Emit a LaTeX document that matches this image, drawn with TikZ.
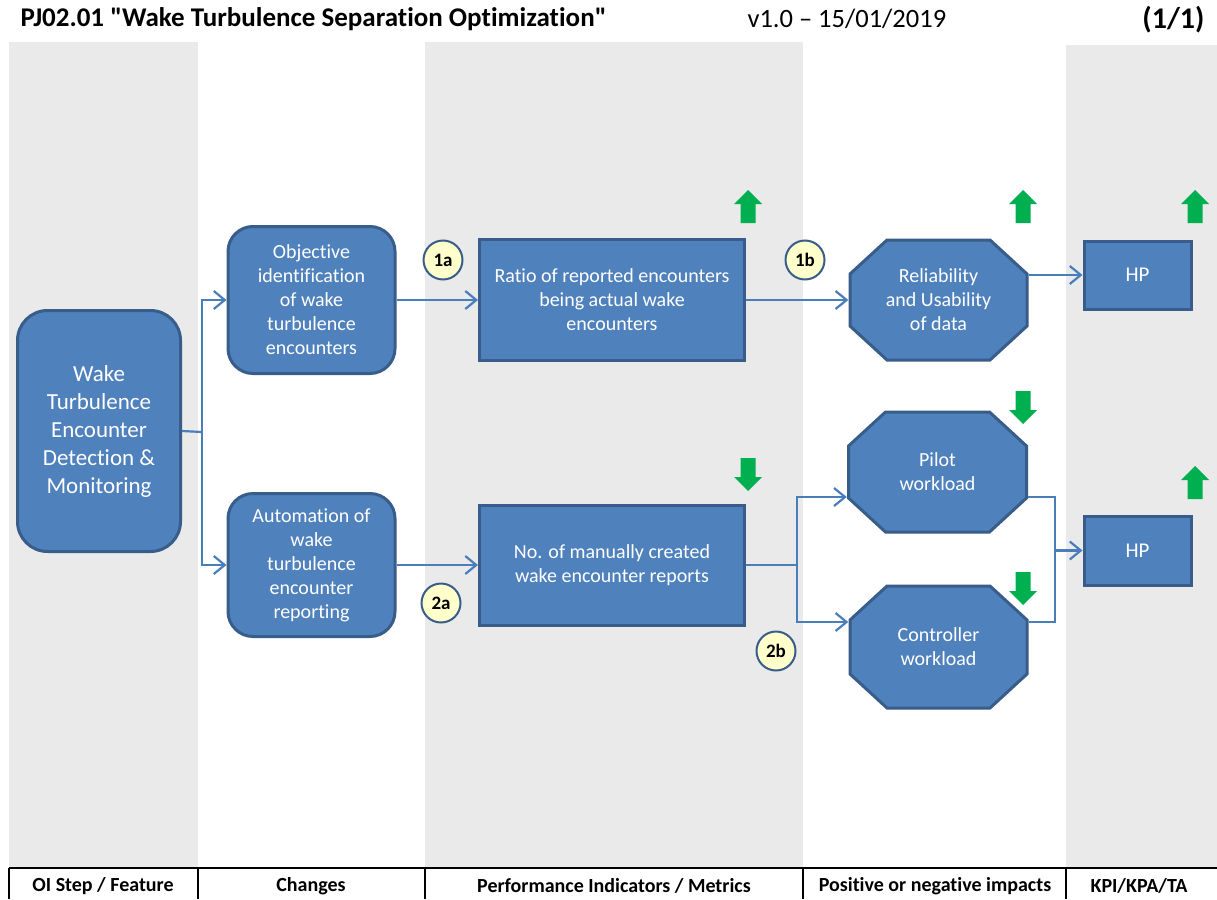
\documentclass[tikz,border=0pt]{standalone}
\usepackage{fontspec}
\setmainfont{Carlito}[Ligatures={TeXOff,NoCommon}]
\usetikzlibrary{arrows.meta,calc}

\definecolor{boxfill}{HTML}{4F81BD}
\definecolor{boxline}{HTML}{385D8A}
\definecolor{connblue}{HTML}{4A7EBB}
\definecolor{bandgray}{HTML}{EAEAEA}
\definecolor{badgefill}{HTML}{FFFFCC}
\definecolor{good}{HTML}{00B050}

\tikzset{
  boxbase/.style={fill=boxfill, draw=boxline, line width=3pt, text=white,
    align=center, inner sep=2pt, font=\fontsize{20}{24}\selectfont},
  rbox/.style={boxbase, rounded corners=25pt},
  sbox/.style={boxbase},
  octbox/.style={align=center, text=white, inner sep=2pt,
    font=\fontsize{20}{24}\selectfont,
    path picture={
      \path[fill=boxfill, draw=boxline, line width=3pt, line join=miter]
        ($(path picture bounding box.north west)+(38.5,1.5)$) --
        ($(path picture bounding box.north east)+(-38.5,1.5)$) --
        ($(path picture bounding box.north east)+(-1.5,35.5)$) --
        ($(path picture bounding box.south east)+(-1.5,-35.5)$) --
        ($(path picture bounding box.south east)+(-38.5,-1.5)$) --
        ($(path picture bounding box.south west)+(38.5,-1.5)$) --
        ($(path picture bounding box.south west)+(1.5,-35.5)$) --
        ($(path picture bounding box.north west)+(1.5,35.5)$) -- cycle;
    }},
  conn/.style={draw=connblue, line width=2.2pt},
  arr/.style={conn, -{Straight Barb[length=11pt,width=18pt]}},
  badge/.style={circle, fill=badgefill, draw=boxline, line width=2pt,
    minimum size=39pt, inner sep=0pt, font=\bfseries\fontsize{19}{19}\selectfont},
  foot/.style={font=\bfseries\fontsize{20}{20}\selectfont},
  upgreen/.pic={\fill[good] (-14,-3) -- (0,-17) -- (14,-3) -- (7.5,-3)
    -- (7.5,16) -- (-7.5,16) -- (-7.5,-3) -- cycle;},
  downgreen/.pic={\fill[good] (-14,3) -- (0,17) -- (14,3) -- (7.5,3)
    -- (7.5,-16) -- (-7.5,-16) -- (-7.5,3) -- cycle;}
}

\begin{document}
\begin{tikzpicture}[x=1pt, y=-1pt]
\useasboundingbox (0,0) rectangle (1217,899);
\fill[white] (0,0) rectangle (1217,899);

% column bands
\fill[bandgray] (9,42) rectangle (198,868);
\fill[bandgray] (425,42) rectangle (803,868);
\fill[bandgray] (1066,45) rectangle (1217,868);

% header line
\node[anchor=west, font=\bfseries\fontsize{27}{27}\selectfont] (title) at (17,19)
  {PJ02.01 "Wake Turbulence Separation Optimization"};
\node[anchor=west, font=\fontsize{26.5}{27}\selectfont] (version) at (744,19)
  {v1.0 – 15/01/2019};
\node[anchor=east, font=\bfseries\fontsize{30}{30}\selectfont] (page) at (1208,20)
  {(1/1)};

% footer row
\draw[black, line width=2.5pt] (9,868) -- (1217,868);
\foreach \xx in {9,198,425,803,1066}
  \draw[black, line width=1.5pt] (\xx,868) -- (\xx,899);
\node[foot] (f1) at (103,886) {OI Step / Feature};
\node[foot] (f2) at (311,886) {Changes};
\node[foot] (f3) at (614,886) {Performance Indicators / Metrics};
\node[foot] (f4) at (935,886) {Positive or negative impacts};
\node[foot] (f5) at (1139,886) {KPI/KPA/TA};

% boxes
\node[rbox, rounded corners=30pt, minimum width=163pt, minimum height=241pt,
  font=\fontsize{23}{28}\selectfont] (oi) at (99,431)
  {Wake\\Turbulence\\Encounter\\Detection \&\\Monitoring};
\node[rbox, minimum width=167pt, minimum height=147pt] (obj) at (311.5,300)
  {Objective\\identification\\of wake\\turbulence\\encounters};
\node[rbox, minimum width=167pt, minimum height=143pt] (aut) at (311.5,565)
  {Automation of\\wake\\turbulence\\encounter\\reporting};
\node[sbox, minimum width=265pt, minimum height=121pt] (ratio) at (612,300)
  {Ratio of reported encounters\\being actual wake\\encounters};
\node[sbox, minimum width=265pt, minimum height=120pt] (manual) at (612,565)
  {No. of manually created\\wake encounter reports};
\node[octbox, minimum width=180pt, minimum height=123pt] (rel) at (938.5,300)
  {Reliability\\and Usability\\of data};
\node[octbox, minimum width=181pt, minimum height=123pt] (pilot) at (937.5,472)
  {Pilot\\workload};
\node[octbox, minimum width=180pt, minimum height=125pt] (ctrl) at (938.5,647)
  {Controller\\workload};
\node[sbox, minimum width=107pt, minimum height=68pt,
  font=\fontsize{21}{21}\selectfont] (hp1) at (1137.5,275) {HP};
\node[sbox, minimum width=107pt, minimum height=69pt,
  font=\fontsize{21}{21}\selectfont] (hp2) at (1137.5,550.5) {HP};

% connectors
\coordinate (s1) at (202,432);
\draw[conn] (oi.east) -- (s1);
\draw[arr] (s1) |- (obj.west);
\draw[arr] (s1) |- (aut.west);
\draw[arr] (obj.east) -- (ratio.west);
\draw[arr] (ratio.east) -- (rel.west);
\draw[arr] (hp1.west -| rel.east) -- (hp1.west);
\draw[arr] (aut.east) -- (manual.west);
\coordinate (s2) at (797,565);
\draw[conn] (manual.east) -- (s2);
\draw[arr] (s2) |- ($(pilot.west)+(0,25)$);
\draw[arr] (s2) |- ($(ctrl.west)+(0,-25)$);
\coordinate (s3) at (1055,550.5);
\draw[conn] ($(pilot.east)+(0,25)$) -| (s3);
\draw[conn] ($(ctrl.east)+(0,-25)$) -| (s3);
\draw[arr] (s3) -- (hp2.west);

% step badges
\node[badge] (b1a) at (443,260) {1a};
\node[badge] (b1b) at (805,260) {1b};
\node[badge] (b2a) at (441,603) {2a};
\node[badge] (b2b) at (776,651) {2b};

% impact arrows
\pic at (748,207) {upgreen};
\pic at (1023,207) {upgreen};
\pic at (1195,207) {upgreen};
\pic at (1195,483) {upgreen};
\pic at (748,474) {downgreen};
\pic at (1023,407) {downgreen};
\pic at (1023,588) {downgreen};
\end{tikzpicture}
\end{document}
